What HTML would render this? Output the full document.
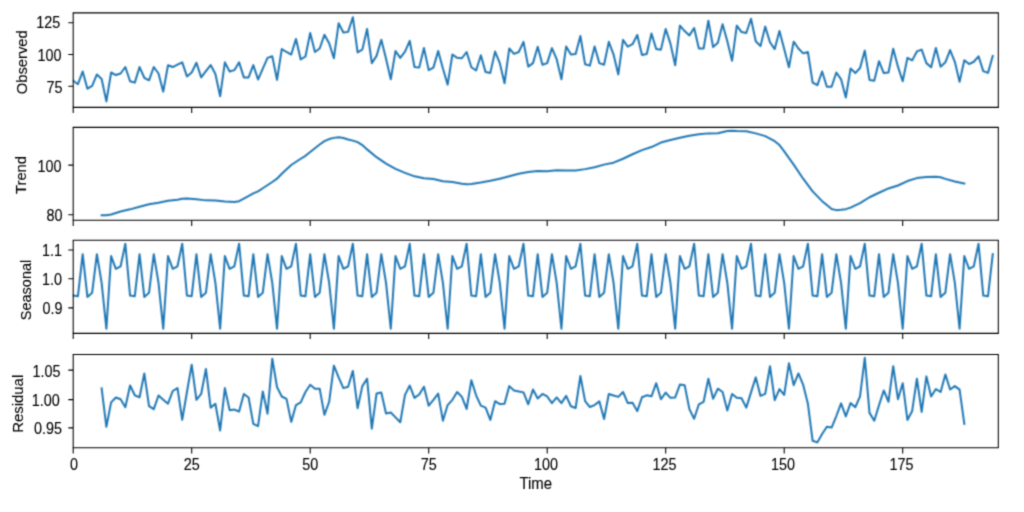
<!DOCTYPE html>
<html><head><meta charset="utf-8"><title>Decomposition</title>
<style>
html,body{margin:0;padding:0;background:#fff;}
body{width:1024px;height:512px;overflow:hidden;}
svg{display:block;}
text{font-family:"Liberation Sans",sans-serif;fill:#000;stroke:#000;stroke-width:0.12px;}
</style></head><body>
<svg width="1024" height="512" viewBox="0 0 1024 512">
<rect width="1024" height="512" fill="#ffffff"/>
<defs><filter id="soft" x="0" y="0" width="1024" height="512" filterUnits="userSpaceOnUse" color-interpolation-filters="sRGB"><feConvolveMatrix order="3" kernelMatrix="0.028 0.111 0.028 0.111 0.444 0.111 0.028 0.111 0.028" divisor="1" edgeMode="none" preserveAlpha="false"/></filter><filter id="soft2" x="0" y="0" width="1024" height="512" filterUnits="userSpaceOnUse" color-interpolation-filters="sRGB"><feConvolveMatrix order="3" kernelMatrix="0.0484 0.1232 0.0484 0.1232 0.3136 0.1232 0.0484 0.1232 0.0484" divisor="1" edgeMode="none" preserveAlpha="false"/></filter></defs>
<g filter="url(#soft2)">
<clipPath id="c0"><rect x="73.2" y="12.9" width="925.10" height="94.50"/></clipPath>
<path clip-path="url(#c0)" d="M73.20,80.70 L77.94,84.22 L82.68,71.52 L87.42,88.71 L92.16,85.78 L96.90,74.45 L101.64,78.95 L106.38,101.41 L111.12,72.50 L115.86,75.04 L120.60,73.48 L125.34,67.03 L130.08,81.29 L134.82,82.66 L139.56,67.03 L144.30,77.77 L149.04,80.31 L153.78,67.03 L158.52,73.48 L163.26,91.64 L168.00,65.27 L172.74,67.03 L177.48,64.69 L182.22,62.34 L186.96,76.41 L191.70,72.50 L196.44,62.73 L201.18,77.38 L205.92,71.13 L210.66,65.08 L215.40,74.06 L220.14,96.33 L224.88,62.34 L229.62,71.52 L234.36,70.16 L239.10,62.34 L243.84,77.38 L248.58,77.38 L253.32,65.08 L258.06,79.53 L262.80,68.59 L267.54,57.85 L272.28,56.29 L277.02,79.92 L281.76,49.06 L286.50,51.99 L291.24,54.53 L295.98,38.91 L300.72,59.41 L305.46,56.48 L310.20,33.05 L314.94,51.99 L319.68,48.48 L324.42,34.80 L329.16,43.20 L333.90,58.24 L338.64,23.28 L343.38,32.46 L348.12,31.88 L352.86,17.23 L357.60,52.38 L362.34,49.65 L367.08,28.95 L371.82,63.12 L376.56,55.90 L381.30,39.69 L386.04,58.83 L390.78,79.34 L395.52,51.02 L400.26,57.85 L405.00,51.60 L409.74,40.86 L414.48,67.03 L419.22,67.62 L423.96,48.09 L428.70,70.16 L433.44,67.62 L438.18,51.02 L442.92,68.59 L447.66,84.61 L452.40,54.53 L457.14,57.85 L461.88,58.24 L466.62,51.99 L471.36,67.23 L476.10,70.55 L480.84,55.31 L485.58,72.11 L490.32,72.89 L495.06,51.60 L499.80,63.12 L504.54,83.24 L509.28,48.48 L514.02,53.95 L518.76,51.99 L523.50,41.84 L528.24,66.64 L532.98,63.12 L537.72,46.72 L542.46,64.69 L547.20,63.12 L551.94,48.09 L556.68,59.22 L561.42,79.34 L566.16,46.52 L570.90,54.53 L575.64,53.95 L580.38,35.98 L585.12,64.30 L589.86,65.66 L594.60,46.52 L599.34,63.12 L604.08,64.69 L608.82,41.84 L613.56,54.53 L618.30,74.45 L623.04,39.88 L627.78,46.72 L632.52,44.18 L637.26,35.00 L642.00,54.92 L646.74,53.95 L651.48,33.44 L656.22,49.06 L660.96,49.65 L665.70,28.95 L670.44,43.59 L675.18,65.27 L679.92,25.62 L684.66,31.09 L689.40,35.39 L694.14,27.97 L698.88,48.48 L703.62,48.48 L708.36,20.74 L713.10,47.11 L717.84,42.81 L722.58,24.26 L727.32,41.25 L732.06,60.78 L736.80,25.62 L741.54,32.07 L746.28,33.05 L751.02,18.79 L755.76,41.25 L760.50,46.13 L765.24,26.60 L769.98,42.23 L774.72,49.06 L779.46,30.90 L784.20,49.06 L788.94,67.23 L793.68,41.64 L798.42,48.48 L803.16,53.36 L807.90,51.99 L812.64,82.66 L817.38,85.20 L822.12,71.52 L826.86,86.76 L831.60,86.76 L836.34,72.50 L841.08,79.34 L845.82,97.50 L850.56,68.59 L855.30,73.09 L860.04,68.01 L864.78,50.62 L869.52,79.92 L874.26,80.70 L879.00,61.17 L883.74,73.09 L888.48,72.50 L893.22,48.67 L897.96,66.64 L902.70,81.29 L907.44,57.85 L912.18,60.39 L916.92,51.41 L921.66,49.65 L926.40,63.12 L931.14,67.23 L935.88,48.09 L940.62,66.64 L945.36,62.34 L950.10,50.04 L954.84,61.76 L959.58,81.88 L964.32,60.20 L969.06,64.10 L973.80,61.76 L978.54,56.29 L983.28,71.13 L988.02,72.89 L992.76,55.90" fill="none" stroke="#1f77b4" stroke-width="2.0" stroke-linejoin="round" stroke-linecap="square"/>
<clipPath id="c1"><rect x="73.2" y="127.4" width="925.10" height="92.80"/></clipPath>
<path clip-path="url(#c1)" d="M101.64,215.21 L106.38,215.21 L111.12,214.43 L120.60,211.50 L130.08,209.35 L139.56,206.81 L149.04,204.27 L158.52,202.71 L168.00,200.76 L177.48,199.78 L182.22,198.80 L186.96,198.61 L196.44,199.20 L205.92,200.37 L215.40,200.56 L224.88,201.54 L234.36,201.93 L239.10,201.15 L243.84,198.61 L253.32,193.34 L258.06,191.38 L262.80,188.26 L272.28,182.01 L277.02,178.69 L281.76,173.80 L291.24,165.02 L300.72,158.77 L305.46,155.84 L310.20,151.93 L319.68,144.51 L324.42,141.19 L329.16,139.04 L333.90,137.87 L338.64,137.28 L343.38,138.06 L348.12,139.43 L352.86,140.60 L357.60,142.16 L362.34,145.09 L367.08,149.39 L376.56,157.20 L386.04,163.65 L395.52,168.92 L405.00,172.83 L414.48,176.34 L423.96,178.30 L433.44,179.08 L442.92,181.23 L452.40,182.11 L461.88,183.77 L466.62,184.35 L471.36,183.96 L480.84,182.59 L490.32,180.84 L499.80,178.69 L509.28,176.34 L518.76,173.80 L528.24,172.05 L537.72,171.07 L547.20,171.27 L556.68,170.29 L566.16,170.48 L575.64,170.48 L585.12,169.12 L594.60,167.16 L604.08,164.62 L613.56,162.67 L623.04,158.77 L632.52,154.27 L642.00,150.17 L651.48,147.05 L660.96,142.55 L670.44,140.02 L679.92,137.67 L689.40,135.72 L698.88,134.35 L708.36,133.38 L717.84,133.18 L727.32,131.03 L732.06,130.64 L736.80,131.03 L746.28,131.23 L755.76,133.38 L765.24,136.11 L774.72,141.19 L779.46,145.09 L784.20,151.34 L793.68,164.62 L803.16,178.69 L812.64,191.38 L822.12,201.15 L826.86,205.05 L831.60,208.96 L836.34,210.13 L841.08,209.74 L845.82,209.16 L850.56,207.59 L860.04,203.10 L869.52,197.24 L879.00,192.75 L888.48,188.45 L897.96,185.52 L907.44,181.03 L916.92,178.10 L926.40,176.93 L935.88,176.73 L940.62,177.32 L945.36,178.88 L954.84,181.42 L964.32,183.57" fill="none" stroke="#1f77b4" stroke-width="2.0" stroke-linejoin="round" stroke-linecap="square"/>
<clipPath id="c2"><rect x="73.2" y="240.3" width="925.10" height="93.10"/></clipPath>
<path clip-path="url(#c2)" d="M73.20,295.57 L77.94,296.16 L82.68,254.16 L87.42,296.94 L92.16,292.64 L96.90,254.16 L101.64,282.88 L106.38,328.77 L111.12,256.12 L115.86,268.81 L120.60,266.27 L125.34,243.81 L130.08,295.57 L134.82,296.16 L139.56,254.16 L144.30,296.94 L149.04,292.64 L153.78,254.16 L158.52,282.88 L163.26,328.77 L168.00,256.12 L172.74,268.81 L177.48,266.27 L182.22,243.81 L186.96,295.57 L191.70,296.16 L196.44,254.16 L201.18,296.94 L205.92,292.64 L210.66,254.16 L215.40,282.88 L220.14,328.77 L224.88,256.12 L229.62,268.81 L234.36,266.27 L239.10,243.81 L243.84,295.57 L248.58,296.16 L253.32,254.16 L258.06,296.94 L262.80,292.64 L267.54,254.16 L272.28,282.88 L277.02,328.77 L281.76,256.12 L286.50,268.81 L291.24,266.27 L295.98,243.81 L300.72,295.57 L305.46,296.16 L310.20,254.16 L314.94,296.94 L319.68,292.64 L324.42,254.16 L329.16,282.88 L333.90,328.77 L338.64,256.12 L343.38,268.81 L348.12,266.27 L352.86,243.81 L357.60,295.57 L362.34,296.16 L367.08,254.16 L371.82,296.94 L376.56,292.64 L381.30,254.16 L386.04,282.88 L390.78,328.77 L395.52,256.12 L400.26,268.81 L405.00,266.27 L409.74,243.81 L414.48,295.57 L419.22,296.16 L423.96,254.16 L428.70,296.94 L433.44,292.64 L438.18,254.16 L442.92,282.88 L447.66,328.77 L452.40,256.12 L457.14,268.81 L461.88,266.27 L466.62,243.81 L471.36,295.57 L476.10,296.16 L480.84,254.16 L485.58,296.94 L490.32,292.64 L495.06,254.16 L499.80,282.88 L504.54,328.77 L509.28,256.12 L514.02,268.81 L518.76,266.27 L523.50,243.81 L528.24,295.57 L532.98,296.16 L537.72,254.16 L542.46,296.94 L547.20,292.64 L551.94,254.16 L556.68,282.88 L561.42,328.77 L566.16,256.12 L570.90,268.81 L575.64,266.27 L580.38,243.81 L585.12,295.57 L589.86,296.16 L594.60,254.16 L599.34,296.94 L604.08,292.64 L608.82,254.16 L613.56,282.88 L618.30,328.77 L623.04,256.12 L627.78,268.81 L632.52,266.27 L637.26,243.81 L642.00,295.57 L646.74,296.16 L651.48,254.16 L656.22,296.94 L660.96,292.64 L665.70,254.16 L670.44,282.88 L675.18,328.77 L679.92,256.12 L684.66,268.81 L689.40,266.27 L694.14,243.81 L698.88,295.57 L703.62,296.16 L708.36,254.16 L713.10,296.94 L717.84,292.64 L722.58,254.16 L727.32,282.88 L732.06,328.77 L736.80,256.12 L741.54,268.81 L746.28,266.27 L751.02,243.81 L755.76,295.57 L760.50,296.16 L765.24,254.16 L769.98,296.94 L774.72,292.64 L779.46,254.16 L784.20,282.88 L788.94,328.77 L793.68,256.12 L798.42,268.81 L803.16,266.27 L807.90,243.81 L812.64,295.57 L817.38,296.16 L822.12,254.16 L826.86,296.94 L831.60,292.64 L836.34,254.16 L841.08,282.88 L845.82,328.77 L850.56,256.12 L855.30,268.81 L860.04,266.27 L864.78,243.81 L869.52,295.57 L874.26,296.16 L879.00,254.16 L883.74,296.94 L888.48,292.64 L893.22,254.16 L897.96,282.88 L902.70,328.77 L907.44,256.12 L912.18,268.81 L916.92,266.27 L921.66,243.81 L926.40,295.57 L931.14,296.16 L935.88,254.16 L940.62,296.94 L945.36,292.64 L950.10,254.16 L954.84,282.88 L959.58,328.77 L964.32,256.12 L969.06,268.81 L973.80,266.27 L978.54,243.81 L983.28,295.57 L988.02,296.16 L992.76,254.16" fill="none" stroke="#1f77b4" stroke-width="2.0" stroke-linejoin="round" stroke-linecap="square"/>
<clipPath id="c3"><rect x="73.2" y="354.5" width="925.10" height="93.20"/></clipPath>
<path clip-path="url(#c3)" d="M101.64,388.48 L106.38,426.76 L111.12,402.34 L115.86,397.46 L120.60,399.22 L125.34,407.23 L130.08,385.55 L134.82,395.31 L139.56,397.27 L144.30,373.44 L149.04,406.05 L153.78,409.18 L158.52,395.51 L163.26,399.80 L168.00,403.71 L172.74,391.02 L177.48,388.09 L182.22,419.73 L186.96,391.99 L191.70,364.65 L196.44,399.80 L201.18,393.95 L205.92,368.95 L210.66,407.62 L215.40,403.71 L220.14,430.47 L224.88,388.09 L229.62,410.16 L234.36,409.57 L239.10,411.52 L243.84,393.95 L248.58,397.46 L253.32,423.83 L258.06,426.17 L262.80,391.41 L267.54,413.67 L272.28,358.79 L277.02,387.11 L281.76,396.48 L286.50,398.83 L291.24,421.88 L295.98,405.08 L300.72,402.34 L305.46,391.99 L310.20,384.77 L314.94,388.67 L319.68,388.67 L324.42,414.84 L329.16,401.76 L333.90,365.62 L338.64,377.34 L343.38,388.09 L348.12,386.72 L352.86,370.90 L357.60,408.20 L362.34,386.13 L367.08,378.71 L371.82,428.71 L376.56,393.55 L381.30,392.58 L386.04,413.48 L390.78,412.50 L395.52,417.38 L400.26,422.27 L405.00,394.92 L409.74,385.55 L414.48,397.85 L419.22,394.53 L423.96,386.72 L428.70,405.66 L433.44,399.80 L438.18,393.55 L442.92,420.70 L447.66,405.08 L452.40,399.80 L457.14,391.99 L461.88,396.88 L466.62,408.98 L471.36,380.27 L476.10,395.31 L480.84,405.66 L485.58,407.62 L490.32,419.92 L495.06,401.17 L499.80,404.10 L504.54,403.71 L509.28,386.13 L514.02,390.43 L518.76,391.41 L523.50,392.38 L528.24,404.30 L532.98,389.45 L537.72,398.44 L542.46,393.95 L547.20,396.48 L551.94,403.12 L556.68,397.46 L561.42,403.12 L566.16,395.90 L570.90,406.25 L575.64,408.01 L580.38,375.98 L585.12,401.17 L589.86,407.03 L594.60,405.08 L599.34,401.37 L604.08,418.95 L608.82,393.95 L613.56,395.51 L618.30,396.88 L623.04,391.99 L627.78,403.12 L632.52,402.73 L637.26,411.13 L642.00,397.27 L646.74,395.31 L651.48,396.29 L656.22,383.20 L660.96,399.22 L665.70,392.58 L670.44,397.85 L675.18,397.46 L679.92,384.57 L684.66,385.16 L689.40,409.18 L694.14,418.75 L698.88,404.30 L703.62,401.76 L708.36,378.71 L713.10,398.83 L717.84,388.67 L722.58,391.99 L727.32,410.55 L732.06,393.95 L736.80,397.85 L741.54,398.24 L746.28,407.62 L751.02,392.38 L755.76,377.34 L760.50,395.90 L765.24,393.95 L769.98,366.21 L774.72,400.20 L779.46,389.06 L784.20,394.92 L788.94,363.28 L793.68,385.16 L798.42,373.44 L803.16,384.77 L807.90,403.71 L812.64,440.82 L817.38,442.38 L822.12,433.98 L826.86,426.76 L831.60,427.54 L836.34,416.02 L841.08,403.32 L845.82,416.41 L850.56,403.12 L855.30,407.23 L860.04,396.29 L864.78,357.81 L869.52,412.89 L874.26,420.70 L879.00,405.27 L883.74,390.43 L888.48,401.76 L893.22,366.21 L897.96,399.22 L902.70,383.20 L907.44,419.92 L912.18,410.94 L916.92,378.71 L921.66,411.91 L926.40,376.37 L931.14,396.48 L935.88,389.06 L940.62,391.99 L945.36,374.41 L950.10,389.45 L954.84,386.13 L959.58,389.65 L964.32,423.83" fill="none" stroke="#1f77b4" stroke-width="2.0" stroke-linejoin="round" stroke-linecap="square"/>
</g>
<g filter="url(#soft)">
<path d="M72.7,12.9 H998.8 M72.7,107.4 H998.8" fill="none" stroke="#000000" stroke-width="1.1"/>
<path d="M73.2,12.9 V107.4 M998.3,12.9 V107.4" fill="none" stroke="#000000" stroke-width="1.05"/>
<path d="M73.20,107.4 v5.7 M191.70,107.4 v5.7 M310.20,107.4 v5.7 M428.70,107.4 v5.7 M547.20,107.4 v5.7 M665.70,107.4 v5.7 M784.20,107.4 v5.7 M902.70,107.4 v5.7 M73.2,22.75 h-4.9 M73.2,54.45 h-4.9 M73.2,86.2 h-4.9 " stroke="#000000" stroke-width="1.07" fill="none"/>
<path d="M72.7,127.4 H998.8 M72.7,220.2 H998.8" fill="none" stroke="#000000" stroke-width="1.1"/>
<path d="M73.2,127.4 V220.2 M998.3,127.4 V220.2" fill="none" stroke="#000000" stroke-width="1.05"/>
<path d="M73.20,220.2 v5.7 M191.70,220.2 v5.7 M310.20,220.2 v5.7 M428.70,220.2 v5.7 M547.20,220.2 v5.7 M665.70,220.2 v5.7 M784.20,220.2 v5.7 M902.70,220.2 v5.7 M73.2,165.1 h-4.9 M73.2,214.75 h-4.9 " stroke="#000000" stroke-width="1.07" fill="none"/>
<path d="M72.7,240.3 H998.8 M72.7,333.4 H998.8" fill="none" stroke="#000000" stroke-width="1.1"/>
<path d="M73.2,240.3 V333.4 M998.3,240.3 V333.4" fill="none" stroke="#000000" stroke-width="1.05"/>
<path d="M73.20,333.4 v5.7 M191.70,333.4 v5.7 M310.20,333.4 v5.7 M428.70,333.4 v5.7 M547.20,333.4 v5.7 M665.70,333.4 v5.7 M784.20,333.4 v5.7 M902.70,333.4 v5.7 M73.2,250.0 h-4.9 M73.2,278.7 h-4.9 M73.2,307.9 h-4.9 " stroke="#000000" stroke-width="1.07" fill="none"/>
<path d="M72.7,354.5 H998.8 M72.7,447.7 H998.8" fill="none" stroke="#000000" stroke-width="1.1"/>
<path d="M73.2,354.5 V447.7 M998.3,354.5 V447.7" fill="none" stroke="#000000" stroke-width="1.05"/>
<path d="M73.20,447.7 v5.7 M191.70,447.7 v5.7 M310.20,447.7 v5.7 M428.70,447.7 v5.7 M547.20,447.7 v5.7 M665.70,447.7 v5.7 M784.20,447.7 v5.7 M902.70,447.7 v5.7 M73.2,370.1 h-4.9 M73.2,399.6 h-4.9 M73.2,427.9 h-4.9 " stroke="#000000" stroke-width="1.07" fill="none"/>
<text x="60.30" y="28.15" font-size="16.0" text-anchor="end" textLength="24.00" lengthAdjust="spacingAndGlyphs">125</text>
<text x="61.60" y="60.85" font-size="16.0" text-anchor="end" textLength="24.00" lengthAdjust="spacingAndGlyphs">100</text>
<text x="62.50" y="92.60" font-size="16.0" text-anchor="end" textLength="16.00" lengthAdjust="spacingAndGlyphs">75</text>
<text x="61.60" y="172.00" font-size="16.0" text-anchor="end" textLength="24.00" lengthAdjust="spacingAndGlyphs">100</text>
<text x="62.50" y="220.65" font-size="16.0" text-anchor="end" textLength="16.00" lengthAdjust="spacingAndGlyphs">80</text>
<text x="61.90" y="256.40" font-size="16.0" text-anchor="end" textLength="20.00" lengthAdjust="spacingAndGlyphs">1.1</text>
<text x="61.90" y="285.10" font-size="16.0" text-anchor="end" textLength="20.00" lengthAdjust="spacingAndGlyphs">1.0</text>
<text x="62.50" y="314.30" font-size="16.0" text-anchor="end" textLength="20.00" lengthAdjust="spacingAndGlyphs">0.9</text>
<text x="60.60" y="376.50" font-size="16.0" text-anchor="end" textLength="28.00" lengthAdjust="spacingAndGlyphs">1.05</text>
<text x="59.70" y="406.00" font-size="16.0" text-anchor="end" textLength="28.00" lengthAdjust="spacingAndGlyphs">1.00</text>
<text x="61.90" y="434.30" font-size="16.0" text-anchor="end" textLength="28.00" lengthAdjust="spacingAndGlyphs">0.95</text>
<text x="74.10" y="469.6" font-size="16.0" text-anchor="middle" textLength="8.00" lengthAdjust="spacingAndGlyphs">0</text>
<text x="191.80" y="469.6" font-size="16.0" text-anchor="middle" textLength="16.00" lengthAdjust="spacingAndGlyphs">25</text>
<text x="310.30" y="469.6" font-size="16.0" text-anchor="middle" textLength="16.00" lengthAdjust="spacingAndGlyphs">50</text>
<text x="428.80" y="469.6" font-size="16.0" text-anchor="middle" textLength="16.00" lengthAdjust="spacingAndGlyphs">75</text>
<text x="546.10" y="469.6" font-size="16.0" text-anchor="middle" textLength="24.00" lengthAdjust="spacingAndGlyphs">100</text>
<text x="664.60" y="469.6" font-size="16.0" text-anchor="middle" textLength="24.00" lengthAdjust="spacingAndGlyphs">125</text>
<text x="783.10" y="469.6" font-size="16.0" text-anchor="middle" textLength="24.00" lengthAdjust="spacingAndGlyphs">150</text>
<text x="901.60" y="469.6" font-size="16.0" text-anchor="middle" textLength="24.00" lengthAdjust="spacingAndGlyphs">175</text>
<text x="535.75" y="489.3" font-size="16.0" text-anchor="middle" textLength="32.6" lengthAdjust="spacingAndGlyphs">Time</text>
<text transform="translate(26.90,62.20) rotate(-90)" font-size="14.0" text-anchor="middle" textLength="64.0" lengthAdjust="spacingAndGlyphs">Observed</text>
<text transform="translate(25.80,175.00) rotate(-90)" font-size="14.0" text-anchor="middle" textLength="38.0" lengthAdjust="spacingAndGlyphs">Trend</text>
<text transform="translate(31.10,290.00) rotate(-90)" font-size="14.0" text-anchor="middle" textLength="60.5" lengthAdjust="spacingAndGlyphs">Seasonal</text>
<text transform="translate(22.70,403.80) rotate(-90)" font-size="14.0" text-anchor="middle" textLength="58.0" lengthAdjust="spacingAndGlyphs">Residual</text>
</g>
</svg>
</body></html>
